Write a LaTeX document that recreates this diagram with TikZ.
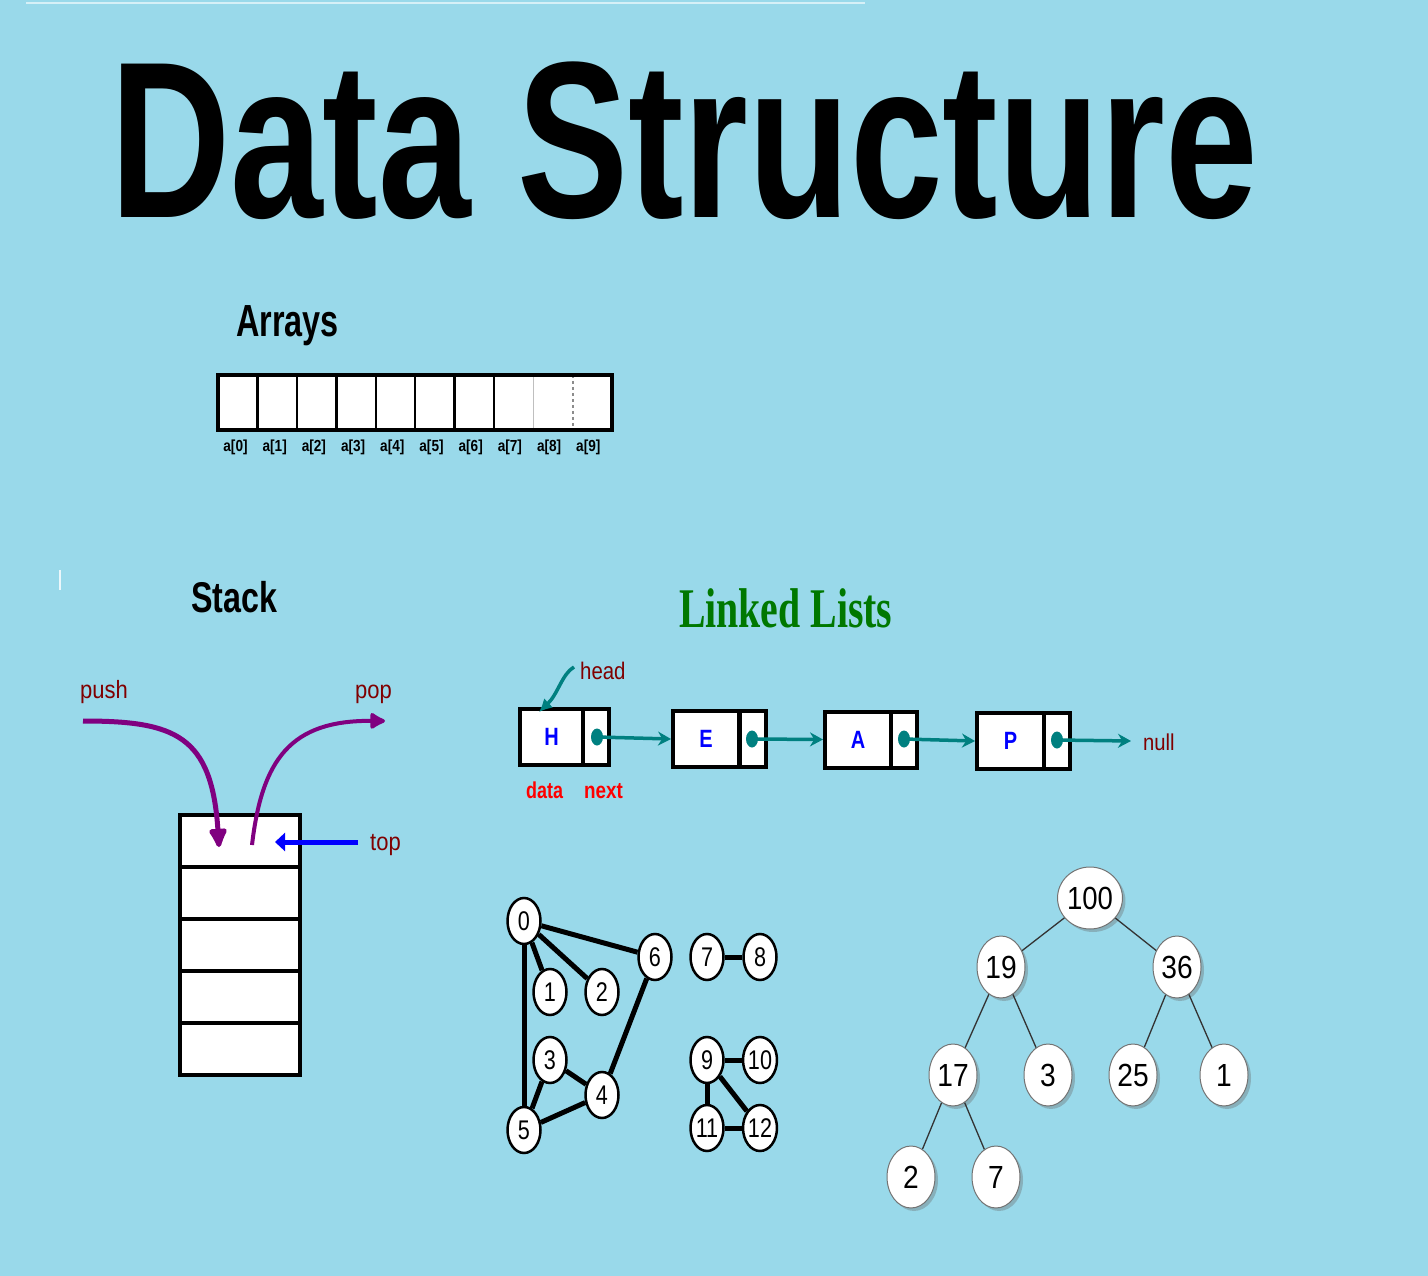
\documentclass[tikz,border=0pt]{standalone}
\usepackage{fontspec}
\setmainfont{Liberation Sans}
\newfontfamily\serifb{Liberation Serif}
\usetikzlibrary{arrows.meta,shapes.geometric,shadows}
\definecolor{bg}{RGB}{153,217,234}
\definecolor{dred}{RGB}{128,0,0}
\definecolor{purp}{RGB}{128,0,128}
\definecolor{tealc}{RGB}{0,128,128}
\definecolor{llgreen}{RGB}{0,120,0}
\newcommand\sqz[2][0.8]{\scalebox{#1}[1]{#2}}
\begin{document}
\begin{tikzpicture}[x=1pt,y=-1pt,
  acell/.style={minimum width=39.4pt,minimum height=55pt,inner sep=0,fill=white},
  alab/.style={font=\fontsize{16}{16}\selectfont\bfseries,inner sep=0},
  scell/.style={draw=black,line width=4pt,fill=white,minimum width=120pt,minimum height=52pt,inner sep=0},
  lbl/.style={text=dred,inner sep=0,anchor=base west,font=\fontsize{25}{25}\selectfont},
  rlbl/.style={text=red,inner sep=0,anchor=base west,font=\fontsize{23}{23}\selectfont\bfseries},
  ldata/.style={draw=black,line width=4pt,fill=white,minimum height=56pt,inner sep=0,font=\fontsize{25}{25}\selectfont\bfseries,text=blue},
  lnext/.style={draw=black,line width=4pt,fill=white,minimum height=56pt,minimum width=26pt,inner sep=0},
  ldot/.style={ellipse,fill=tealc,minimum width=12pt,minimum height=17pt,inner sep=0},
  larrow/.style={draw=tealc,line width=3.5pt,-{Stealth[length=13pt,width=14pt]}},
  gnode/.style={ellipse,draw=black,line width=2.5pt,fill=white,minimum width=33pt,minimum height=46pt,inner sep=0,font=\fontsize{27}{27}\selectfont},
  gedge/.style={line width=5pt,black},
  tnode/.style={ellipse,draw=black!55,line width=1pt,fill=white,minimum width=48pt,minimum height=62pt,inner sep=0,font=\fontsize{32}{32}\selectfont,
    drop shadow={shadow xshift=3pt,shadow yshift=-3pt,opacity=0.35,fill=black!60}},
  tedge/.style={draw=black!80,line width=1.3pt}
]
\fill[bg] (0,0) rectangle (1428,1276);
\useasboundingbox (0,0) rectangle (1428,1276);
\draw[white!60!bg,line width=1.5pt] (26,3) -- (865,3);
\draw[white!80!bg,line width=1.2pt] (60,570) -- (60,590);

% Title
\node[anchor=base,inner sep=0] (title) at (684,218) {\fontsize{223}{223}\selectfont\bfseries\sqz[0.747]{Data Structure}};

% Arrays
\node[anchor=base west,inner sep=0] (arrays) at (236,337) {\fontsize{45}{45}\selectfont\bfseries\sqz[0.72]{Arrays}};
\foreach \i in {0,...,9}{
  \node[acell] (a\i) at ({237.7+39.4*\i},402.5) {};
  \node[alab] (l\i) at ({235.5+39.2*\i},447) {\sqz[0.85]{a[\i]}};
}
\foreach \i in {0,...,6}{ \draw[line width=2.5pt] (a\i.north east) -- (a\i.south east); }
\draw[line width=1.5pt,black!25] (a7.north east) -- (a7.south east);
\draw[line width=1.5pt,black!45,dashed] (a8.north east) -- (a8.south east);
\draw[line width=4pt] (a0.north west) rectangle (a9.south east);

% Stack
\node[anchor=base west,inner sep=0] (stack) at (191,612) {\fontsize{43}{43}\selectfont\bfseries\sqz[0.75]{Stack}};
\foreach \i in {0,...,4}{ \node[scell] (s\i) at (240,{841+52*\i}) {}; }
\node[lbl] (push) at (80,698) {\sqz[0.88]{push}};
\node[lbl] (pop) at (355,698) {\sqz[0.88]{pop}};
\node[lbl] (top) at (370,850) {\sqz[0.88]{top}};
\coordinate (pushS) at (83,721);
\coordinate (pushE) at (219,847);
\coordinate (popS) at (252,845);
\coordinate (popE) at (385,721);
\coordinate (topS) at (358,842);
\coordinate (topE) at (275,842);
\draw[purp,line width=5pt,-{Latex[length=24pt,width=22pt,round]}] (pushS) .. controls (175,721) and (212,735) .. (pushE);
\draw[purp,line width=4pt,-{Latex[length=18pt,width=20pt,round]}] (popS) .. controls (262,760) and (290,720) .. (popE);
\draw[blue,line width=5pt,-{Triangle[length=10pt,width=18pt]}] (topS) -- (topE);

% Linked lists
\node[anchor=base west,inner sep=0,text=llgreen] (lltitle) at (679,627) {\serifb\bfseries\fontsize{56}{56}\selectfont\sqz[0.71]{Linked Lists}};
\node[ldata,minimum width=63pt] (d1) at (551.5,737) {\sqz{H}};
\node[lnext] (x1) at (595.5,737) {};
\node[ldata,minimum width=66pt] (d2) at (706,739) {\sqz{E}};
\node[lnext] (x2) at (752.5,739) {};
\node[ldata,minimum width=66pt] (d3) at (858,739.5) {\sqz{A}};
\node[lnext] (x3) at (903.5,739.5) {};
\node[ldata,minimum width=67pt] (d4) at (1010.5,741) {\sqz{P}};
\node[lnext] (x4) at (1057,741) {};
\node[ldot] (p1) at (597,737) {};
\node[ldot] (p2) at (752,739) {};
\node[ldot] (p3) at (904,739) {};
\node[ldot] (p4) at (1057,740) {};
\coordinate (nullE) at (1131,741);
\draw[larrow] (p1.center) -- (d2.west);
\draw[larrow] (p2.center) -- (d3.west);
\draw[larrow] (p3.center) -- (d4.west);
\draw[larrow] (p4.center) -- (nullE);
\node[lbl,font=\fontsize{23}{23}\selectfont] (null) at (1143,750) {\sqz[0.88]{null}};
\node[lbl,font=\fontsize{24}{24}\selectfont] (head) at (580,679) {\sqz[0.85]{head}};
\coordinate (headS) at (574,667);
\coordinate (headE) at (539,712);
\draw[tealc,line width=3.5pt,-{Latex[length=13pt,width=13pt]}] (headS) .. controls (562,674) and (558,694) .. (headE);
\node[rlbl] (data) at (526,798) {\sqz[0.78]{data}};
\node[rlbl] (next) at (584,798) {\sqz[0.82]{next}};

% Graph
\node[gnode] (g0) at (524,921) {\sqz[0.8]{0}};
\node[gnode] (g1) at (550,992) {\sqz[0.8]{1}};
\node[gnode] (g2) at (602,992) {\sqz[0.8]{2}};
\node[gnode] (g6) at (655,957) {\sqz[0.8]{6}};
\node[gnode] (g3) at (550,1060) {\sqz[0.8]{3}};
\node[gnode] (g4) at (602,1095) {\sqz[0.8]{4}};
\node[gnode] (g5) at (524,1130) {\sqz[0.8]{5}};
\node[gnode] (g7) at (707,957) {\sqz[0.8]{7}};
\node[gnode] (g8) at (760,957) {\sqz[0.8]{8}};
\node[gnode] (g9) at (707,1060) {\sqz[0.8]{9}};
\node[gnode] (g10) at (760,1060) {\sqz[0.8]{10}};
\node[gnode] (g11) at (707,1128) {\sqz[0.8]{11}};
\node[gnode] (g12) at (760,1128) {\sqz[0.8]{12}};
\foreach \a/\b in {g0/g6,g0/g1,g0/g2,g0/g5,g6/g4,g3/g4,g3/g5,g5/g4,g7/g8,g9/g10,g9/g11,g9/g12,g11/g12}{
  \draw[gedge] (\a) -- (\b);
}

% Tree
\node[tnode] (t100) at (1090,898) {\sqz[0.86]{100}};
\node[tnode] (t19) at (1001,967) {\sqz[0.88]{19}};
\node[tnode] (t36) at (1177,967) {\sqz[0.88]{36}};
\node[tnode] (t17) at (953,1075) {\sqz[0.88]{17}};
\node[tnode] (t3) at (1048,1075) {\sqz[0.88]{3}};
\node[tnode] (t25) at (1133,1075) {\sqz[0.88]{25}};
\node[tnode] (t1) at (1224,1075) {\sqz[0.88]{1}};
\node[tnode] (t2) at (911,1177) {\sqz[0.88]{2}};
\node[tnode] (t7) at (996,1177) {\sqz[0.88]{7}};
\foreach \a/\b in {t100/t19,t100/t36,t19/t17,t19/t3,t36/t25,t36/t1,t17/t2,t17/t7}{
  \draw[tedge] (\a) -- (\b);
}
\end{tikzpicture}
\end{document}
